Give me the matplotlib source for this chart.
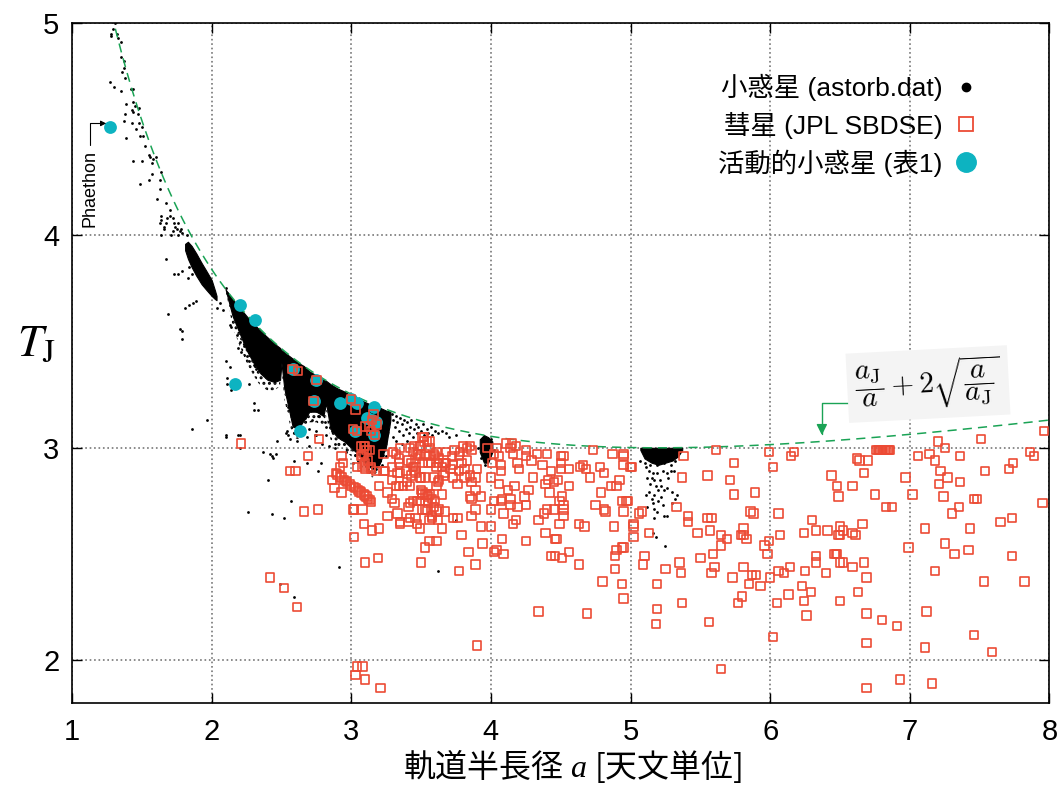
import numpy as np
import matplotlib
matplotlib.use("Agg")
import matplotlib.pyplot as plt
from matplotlib.lines import Line2D

plt.rcParams['font.family'] = ['Liberation Sans', 'Noto Sans CJK JP', 'DejaVu Sans']
# custom math font set, used only by the x label (CJK text + italic serif a)
plt.rcParams['mathtext.rm'] = 'Noto Sans CJK JP'
plt.rcParams['mathtext.it'] = 'Liberation Serif:italic'
plt.rcParams['hatch.linewidth'] = 1.4

# Jupiter semi-major axis used in the boundary curve a_J/a + 2 sqrt(a/a_J)
a_jup = 5.2

# ---- asteroids (astorb.dat): dense regions as (a, upper T, lower T)
band_a = [2.10, 2.15, 2.20, 2.25, 2.30, 2.35, 2.40, 2.45, 2.49, 2.50, 2.52, 2.55, 2.58, 2.62,
          2.66, 2.70, 2.75, 2.80, 2.82, 2.85, 2.90, 2.95, 3.00, 3.05, 3.10, 3.15, 3.20, 3.25, 3.28]
band_top = [3.745, 3.70, 3.66, 3.62, 3.585, 3.55, 3.52, 3.49, 3.47, 3.46, 3.45, 3.435, 3.42, 3.40,
            3.385, 3.36, 3.34, 3.32, 3.315, 3.30, 3.28, 3.265, 3.245, 3.23, 3.215, 3.20, 3.19, 3.175, 3.17]
band_low = [3.745, 3.62, 3.54, 3.46, 3.40, 3.35, 3.32, 3.31, 3.32, 3.40, 3.28, 3.19, 3.10, 3.09,
            3.13, 3.17, 3.17, 3.15, 3.21, 3.09, 3.05, 3.03, 3.00, 2.97, 2.93, 2.90, 2.92, 3.01, 3.13]
# lower edge of the speckled (less dense) fringe below the band
speck_low = [3.745, 3.57, 3.48, 3.40, 3.34, 3.29, 3.27, 3.27, 3.29, 3.38, 3.23, 3.14, 3.05, 3.04,
             3.08, 3.12, 3.12, 3.10, 3.16, 3.04, 3.01, 2.99, 2.96, 2.93, 2.89, 2.86, 2.88, 2.97, 3.10]

hung_a = [1.81, 1.83, 1.857, 1.89, 1.928, 1.96, 2.00, 2.024, 2.035]
hung_top = [3.96, 3.97, 3.95, 3.915, 3.87, 3.835, 3.79, 3.74, 3.715]
hung_low = [3.93, 3.89, 3.85, 3.81, 3.77, 3.745, 3.715, 3.70, 3.695]

hilda_a = [3.92, 3.95, 3.98, 4.01]
hilda_top = [3.04, 3.06, 3.05, 3.03]
hilda_low = [2.98, 2.93, 2.93, 2.98]

trojan_a = [5.07, 5.10, 5.15, 5.20, 5.25, 5.30, 5.34, 5.37]
trojan_top = [3.0, 3.0, 3.0, 3.0, 3.0, 3.0, 3.0, 3.0]
trojan_low = [2.99, 2.95, 2.93, 2.92, 2.93, 2.94, 2.96, 2.99]

# ---- asteroids: individual scattered objects (a, T)
ast_dots = [
    (1.31, 5.0), (1.29, 4.97), (1.28, 4.95), (1.32, 4.95), (1.28, 4.94), (1.33, 4.93), (1.35, 4.91),
    (1.35, 4.84), (1.37, 4.82), (1.37, 4.79), (1.36, 4.77), (1.27, 4.72), (1.30, 4.70), (1.35, 4.68),
    (1.38, 4.74), (1.42, 4.69), (1.44, 4.69), (1.39, 4.62), (1.44, 4.63), (1.45, 4.61), (1.43, 4.59),
    (1.48, 4.60), (1.47, 4.57), (1.44, 4.58), (1.38, 4.57), (1.37, 4.54), (1.43, 4.53), (1.48, 4.53),
    (1.50, 4.51), (1.46, 4.50), (1.39, 4.46), (1.49, 4.47), (1.51, 4.47), (1.52, 4.42), (1.55, 4.38),
    (1.56, 4.37), (1.58, 4.36), (1.57, 4.34), (1.60, 4.37), (1.50, 4.35), (1.44, 4.35), (1.57, 4.29),
    (1.64, 4.30), (1.63, 4.26), (1.55, 4.26), (1.49, 4.24), (1.63, 4.22), (1.61, 4.17), (1.67, 4.15),
    (1.70, 4.12), (1.70, 4.09), (1.64, 4.09), (1.64, 4.07), (1.68, 4.08), (1.72, 4.08), (1.66, 4.04),
    (1.74, 4.04), (1.76, 4.06), (1.78, 4.03), (1.72, 4.02), (1.76, 4.0), (1.79, 4.01), (1.82, 4.0),
    (1.63, 4.06), (1.67, 4.06), (1.66, 4.03), (1.73, 4.06), (1.75, 4.03), (1.77, 4.02), (1.71, 4.0),
    (1.64, 4.0), (1.67, 3.89), (1.73, 3.82), (1.76, 3.82), (1.79, 3.83), (1.84, 3.85), (1.86, 3.82),
    (1.83, 3.80), (1.81, 3.66), (1.84, 3.67), (1.87, 3.68), (1.89, 3.69), (1.69, 3.63), (1.77, 3.56),
    (1.79, 3.55), (1.79, 3.51), (1.86, 3.09), (1.97, 3.13), (2.10, 3.05), (2.19, 3.06), (2.27, 3.30),
    (2.30, 3.21), (2.33, 3.18), (2.30, 3.18), (2.11, 3.33), (2.11, 3.30), (2.14, 3.27), (2.10, 3.41),
    (2.13, 3.38), (2.06, 3.68), (2.08, 3.65), (2.04, 3.66), (2.10, 3.75), (2.11, 3.73), (2.18, 3.53),
    (2.20, 3.50), (2.23, 3.48), (2.13, 3.58), (2.14, 3.57), (2.19, 3.47), (2.21, 3.45), (2.25, 3.43),
    (2.27, 3.41), (2.30, 3.39), (2.32, 3.37), (2.36, 3.38), (2.38, 3.35), (2.41, 3.35), (2.43, 3.34),
    (2.45, 3.33), (2.47, 3.03), (2.44, 2.95), (2.42, 2.97), (2.54, 3.08), (2.55, 3.06), (2.61, 3.06),
    (2.66, 3.08), (2.70, 3.09), (2.75, 3.06), (2.82, 3.06), (2.86, 3.08), (2.88, 3.0), (2.79, 3.02),
    (2.55, 3.19), (2.57, 3.16), (2.63, 3.19), (2.67, 3.14), (2.68, 3.19), (2.58, 3.12), (2.62, 3.10),
    (2.72, 3.13), (2.76, 3.15), (2.81, 3.12), (2.10, 3.06), (2.20, 3.06), (2.20, 3.0), (2.37, 2.98),
    (2.43, 2.96), (2.46, 2.97), (2.40, 2.85), (2.26, 2.70), (2.43, 2.69), (2.52, 2.67), (2.57, 2.75),
    (2.59, 2.94), (2.68, 2.93), (2.76, 2.89), (2.78, 2.93), (2.49, 2.36), (2.59, 2.30), (2.91, 2.44),
    (2.53, 3.07), (2.56, 3.04), (2.61, 3.03), (2.68, 3.05), (2.74, 3.06), (2.75, 3.08), (2.82, 3.10),
    (2.87, 3.11), (2.92, 3.11), (2.70, 3.01), (2.84, 3.01), (2.88, 3.02), (2.96, 2.98), (3.01, 2.93),
    (3.05, 2.97), (3.10, 2.95), (3.16, 2.97), (3.21, 2.98), (3.20, 2.94), (3.25, 2.96), (3.15, 2.91),
    (3.13, 2.93), (3.17, 2.93), (3.12, 2.90), (3.18, 2.90), (3.22, 2.92),
    (3.29, 3.16), (3.30, 3.13), (3.31, 3.10), (3.32, 3.15), (3.33, 3.12), (3.34, 3.08), (3.35, 3.14),
    (3.36, 3.11), (3.37, 3.06), (3.38, 3.13), (3.39, 3.09), (3.40, 3.12), (3.41, 3.07), (3.42, 3.10),
    (3.43, 3.13), (3.44, 3.05), (3.45, 3.09), (3.46, 3.11), (3.47, 3.07), (3.48, 3.10), (3.50, 3.08),
    (3.51, 3.11), (3.52, 3.06), (3.54, 3.09), (3.55, 3.07), (3.57, 3.10), (3.58, 3.06), (3.60, 3.08),
    (3.62, 3.07), (3.65, 3.08), (3.68, 3.07), (3.70, 3.05), (3.75, 3.06), (3.84, 3.06), (3.30, 3.05),
    (3.32, 3.03), (3.36, 3.02), (3.40, 3.03), (3.62, 2.42), (3.75, 2.66),
    (3.91, 3.00), (3.93, 2.95), (4.02, 2.99), (3.96, 2.92), (4.00, 3.04),
    (5.07, 2.94), (5.10, 2.93), (5.14, 2.92), (5.19, 2.92), (5.24, 2.93), (5.29, 2.92), (5.32, 2.94),
    (5.33, 2.96), (5.35, 2.98), (5.11, 2.91), (5.13, 2.89), (5.16, 2.88), (5.12, 2.86), (5.17, 2.85),
    (5.19, 2.88), (5.23, 2.89), (5.26, 2.88), (5.29, 2.89), (5.31, 2.89), (5.14, 2.83), (5.18, 2.82),
    (5.22, 2.82), (5.24, 2.80), (5.26, 2.81), (5.30, 2.79), (5.13, 2.79), (5.17, 2.78), (5.11, 2.78),
    (5.20, 2.75), (5.16, 2.74), (5.12, 2.72), (5.17, 2.71), (5.23, 2.73), (5.30, 2.74), (5.24, 2.68),
    (5.17, 2.67), (5.26, 2.68), (5.18, 2.58), (5.25, 2.54), (5.16, 2.60), (5.32, 2.76), (5.33, 2.78),
    (5.15, 2.86), (5.21, 2.85), (5.27, 2.86), (5.20, 2.80), (5.15, 2.76), (5.22, 2.77), (5.19, 2.70),
]

# ---- comets (JPL SBDSE) (a, T)
comets = [
    (2.21, 3.02), (2.42, 2.39), (2.52, 2.34), (2.61, 2.25), (2.56, 2.89), (2.60, 2.89), (2.66, 2.70),
    (2.76, 2.71), (2.69, 2.96), (2.77, 3.04), (2.58, 3.37), (2.62, 3.36), (2.75, 3.32), (2.73, 3.22),
    (3.00, 3.23), (3.03, 3.18), (3.16, 3.16), (3.15, 3.13), (3.18, 3.11), (3.13, 3.10), (3.10, 3.10),
    (3.14, 3.08), (3.04, 3.08), (3.01, 3.09), (3.17, 3.06), (3.07, 3.01), (3.10, 3.01), (3.11, 2.99),
    (3.13, 2.99), (2.93, 2.96), (2.94, 2.93), (2.92, 2.91), (3.08, 2.96), (3.10, 2.93), (3.08, 2.91),
    (3.04, 2.91), (3.14, 2.91), (3.18, 2.89), (3.23, 2.97), (3.23, 2.89), (3.30, 2.98), (3.35, 3.00),
    (3.34, 2.93), (3.35, 2.88), (3.32, 2.82), (3.20, 2.82), (3.26, 2.79), (3.29, 2.76), (3.31, 2.74),
    (3.33, 2.69), (3.26, 2.68), (3.09, 2.64), (3.20, 2.62), (3.35, 2.65), (2.86, 2.85), (2.88, 2.81),
    (2.93, 2.79), (3.01, 2.71), (3.02, 2.71), (3.08, 2.71), (3.15, 2.61), (3.02, 2.58), (3.10, 2.46),
    (3.19, 2.48), (3.29, 2.85), (3.29, 2.91), (3.24, 2.89), (3.14, 2.90), (3.10, 2.90), (3.09, 2.92),
    (3.12, 2.94), (3.07, 2.96), (3.09, 2.97), (3.09, 3.01), (3.04, 1.97), (3.08, 1.97), (3.03, 1.93),
    (3.10, 1.91), (3.21, 1.87), (3.34, 2.82), (3.33, 2.88), (3.34, 2.95), (3.32, 2.97),
    (3.46, 2.89), (3.49, 2.96), (3.41, 2.94), (3.44, 2.91), (3.51, 3.05), (3.54, 3.03), (3.56, 3.00),
    (3.49, 3.01), (3.60, 2.96), (3.61, 2.91), (3.66, 2.93), (3.67, 2.88), (3.62, 2.84), (3.49, 2.86),
    (3.51, 2.78), (3.53, 2.78), (3.55, 2.77), (3.58, 2.76), (3.63, 2.71), (3.54, 2.71), (3.58, 2.67),
    (3.67, 2.70), (3.42, 2.74), (3.47, 2.75), (3.41, 2.65), (3.44, 2.98), (3.48, 2.97), (3.53, 2.97),
    (3.56, 2.96), (3.59, 2.97), (3.61, 2.98), (3.46, 2.95), (3.43, 2.93), (3.51, 2.93), (3.55, 2.93),
    (3.57, 2.93), (3.62, 2.93), (3.65, 2.91), (3.68, 2.93), (3.46, 2.91), (3.39, 2.89), (3.43, 2.87),
    (3.46, 2.88), (3.50, 2.86), (3.53, 2.86), (3.59, 2.86), (3.63, 2.85), (3.37, 2.82), (3.40, 2.84),
    (3.42, 2.82), (3.50, 2.80), (3.51, 2.79), (3.54, 2.78), (3.56, 2.78), (3.49, 2.75), (3.44, 2.75),
    (3.41, 2.72), (3.53, 2.71), (3.58, 2.68), (3.46, 2.67), (3.52, 3.05), (3.52, 3.03), (3.45, 3.01),
    (3.49, 3.01), (3.56, 3.03), (3.42, 3.00),
    (3.74, 2.99), (3.83, 3.00), (3.86, 2.99), (3.77, 2.96), (3.72, 2.96), (3.79, 2.93), (3.73, 2.92),
    (3.63, 2.95), (3.76, 2.83), (3.81, 2.86), (3.86, 2.76),
    (3.85, 3.01), (3.80, 3.01), (3.78, 2.98), (3.77, 2.89), (3.81, 2.90), (3.73, 2.86), (3.71, 2.90),
    (3.68, 2.98), (3.67, 2.93), (3.66, 2.87), (3.65, 2.78), (3.61, 2.82), (3.60, 2.75), (3.59, 2.72),
    (3.61, 2.70), (3.56, 2.66), (3.62, 2.66), (3.65, 2.62), (3.55, 2.74), (3.51, 2.71), (3.47, 2.64),
    (3.49, 2.62), (3.42, 2.67), (3.35, 2.64), (3.73, 2.67), (3.76, 2.67), (3.79, 2.59), (3.84, 2.51),
    (3.77, 2.42), (3.89, 2.45), (3.94, 2.55), (3.93, 2.63), (4.00, 2.63), (3.50, 2.46), (3.53, 2.53),
    (3.56, 2.56), (3.61, 2.56), (3.90, 2.07),
    (3.90, 2.90), (3.89, 2.86), (3.86, 2.84), (3.85, 2.87), (3.83, 2.94), (3.93, 2.77), (3.89, 2.80),
    (3.85, 2.77), (3.89, 2.71), (3.86, 2.68), (3.97, 3.00),
    (4.73, 2.99), (4.87, 2.97), (4.95, 2.96), (4.95, 2.92), (5.00, 2.91), (4.81, 2.88), (4.78, 2.91),
    (4.71, 2.86), (4.68, 2.90), (4.66, 2.92), (4.64, 2.91), (4.56, 2.90), (4.50, 2.96), (4.52, 2.96),
    (4.50, 2.93), (4.50, 2.90), (4.43, 2.89), (4.40, 2.97), (4.37, 2.92), (4.33, 2.97), (4.29, 2.94),
    (4.25, 2.96), (4.25, 2.99), (4.20, 2.90), (4.18, 3.01), (4.15, 3.02), (4.11, 3.02), (4.14, 3.00),
    (4.16, 2.97), (4.19, 2.93), (4.07, 2.89), (4.04, 3.00), (4.02, 2.97), (4.06, 2.96), (4.07, 2.92),
    (4.01, 2.93), (4.00, 2.86), (4.06, 2.83), (4.12, 2.80), (4.17, 2.82), (4.27, 2.80), (4.30, 2.86),
    (4.41, 2.85), (4.45, 2.84), (4.48, 2.85), (4.56, 2.82), (4.39, 2.83), (4.42, 2.79), (4.51, 2.77),
    (4.49, 2.75), (4.52, 2.73), (4.52, 2.71), (4.52, 2.68), (4.45, 2.71), (4.40, 2.71), (4.38, 2.69),
    (4.34, 2.66), (4.24, 2.77), (4.25, 2.73), (4.19, 2.72), (4.18, 2.66), (4.16, 2.64), (4.14, 2.76),
    (4.14, 2.73), (4.08, 2.76), (4.07, 2.75), (4.09, 2.69), (4.02, 2.75), (4.00, 2.71), (4.02, 2.51),
    (4.04, 2.52), (4.09, 2.50), (4.08, 2.57), (4.25, 2.56), (4.46, 2.57), (4.47, 2.57), (4.43, 2.49),
    (4.46, 2.49), (4.51, 2.48), (4.56, 2.51), (4.63, 2.45), (4.63, 2.64), (4.67, 2.63), (4.49, 2.64),
    (4.39, 2.60), (4.34, 2.23), (4.69, 2.22), (4.79, 2.79), (4.75, 2.73), (4.81, 2.71), (4.82, 2.70),
    (4.88, 2.63), (4.86, 2.82), (4.90, 2.82), (4.92, 2.85), (4.94, 2.75), (4.98, 2.75), (4.90, 2.52),
    (4.95, 2.53), (4.89, 2.49), (4.89, 2.43), (4.80, 2.37), (4.94, 2.36), (4.95, 2.29),
    (4.95, 2.97), (4.97, 2.75), (4.95, 2.70), (5.02, 2.64), (5.02, 2.63), (5.02, 2.58), (4.94, 2.53),
    (5.01, 2.91), (5.06, 2.69), (5.08, 2.70), (5.10, 2.49), (5.09, 2.45), (5.13, 2.60), (5.19, 2.36),
    (5.19, 2.24), (5.18, 2.17), (5.25, 2.43), (5.33, 2.72), (5.35, 2.46), (5.36, 2.41), (5.37, 2.27),
    (5.37, 2.86), (5.38, 2.96), (5.41, 2.65), (5.41, 2.68), (5.48, 2.60), (5.50, 2.48), (5.55, 2.87),
    (5.55, 2.67), (5.58, 2.67), (5.57, 2.61), (5.59, 2.50), (5.60, 2.44), (5.58, 2.41), (5.56, 2.18),
    (5.61, 2.99), (5.65, 2.59), (5.65, 2.54), (5.69, 2.57), (5.65, 1.96), (5.71, 2.85), (5.74, 2.93),
    (5.74, 2.78), (5.73, 2.39), (5.77, 2.27), (5.79, 2.59), (5.81, 2.59), (5.83, 2.57), (5.81, 2.62),
    (5.81, 2.44), (5.80, 2.30), (5.85, 2.36), (5.87, 2.40), (5.90, 2.40), (5.93, 2.35), (5.86, 2.70),
    (5.88, 2.69), (5.89, 2.79), (5.96, 2.54), (5.98, 2.50), (5.99, 2.56), (5.99, 2.98), (6.00, 2.39),
    (6.02, 2.91), (6.02, 2.11), (6.06, 2.42), (6.06, 2.69), (6.07, 2.59), (6.05, 2.27), (6.10, 2.41),
    (6.14, 2.44), (6.13, 2.31), (6.15, 2.96), (6.17, 2.98), (6.24, 2.60), (6.25, 2.42), (6.24, 2.28),
    (6.23, 2.35), (6.26, 2.21), (6.29, 2.32), (6.30, 2.66), (6.33, 2.49), (6.33, 2.46), (6.33, 2.61),
    (6.40, 2.41), (6.41, 2.61), (6.44, 2.87), (6.48, 2.82), (6.49, 2.77), (6.46, 2.50), (6.48, 2.50),
    (6.50, 2.63), (6.50, 2.59), (6.50, 2.46), (6.50, 2.28),
    (6.62, 2.95), (6.64, 2.94), (6.70, 2.94), (6.67, 2.88), (6.59, 2.82), (6.75, 2.78), (6.83, 2.72),
    (6.87, 2.72), (6.97, 2.86), (7.02, 2.78), (6.66, 2.64), (6.52, 2.61), (6.49, 2.59), (6.59, 2.60),
    (6.61, 2.59), (6.47, 2.50), (6.52, 2.46), (6.59, 2.44), (6.67, 2.46), (6.69, 2.39), (6.99, 2.53),
    (6.63, 2.32), (6.69, 2.22), (6.80, 2.19), (6.91, 2.16), (6.69, 2.08), (6.93, 1.91), (6.69, 1.87),
    (7.11, 2.62), (7.12, 2.23), (7.11, 2.06), (7.16, 1.89), (7.18, 2.42), (7.06, 2.96), (7.14, 2.97),
    (7.18, 2.94), (7.20, 3.03), (7.25, 3.00), (7.36, 2.96), (7.22, 2.89), (7.27, 2.86), (7.21, 2.83),
    (7.36, 2.84), (7.24, 2.77), (7.35, 2.72), (7.30, 2.69), (7.25, 2.55), (7.32, 2.50), (7.42, 2.52),
    (7.43, 2.62), (7.46, 2.76), (7.48, 2.76), (7.46, 2.12), (7.51, 3.04), (7.54, 2.89), (7.53, 2.37),
    (7.59, 2.04), (7.65, 2.65), (7.71, 2.90), (7.74, 2.93), (7.73, 2.67), (7.73, 2.49), (7.82, 2.37),
    (7.86, 2.98), (7.89, 2.96), (7.95, 2.74), (7.96, 3.08),
]

# fragment trail of one comet near a = 3
trail_a = [2.89, 2.90, 2.92, 2.93, 2.95, 2.96, 2.97, 2.99, 3.00, 3.02,
           3.03, 3.05, 3.06, 3.07, 3.09, 3.10, 3.11, 3.12, 3.13, 3.14]
trail_t = [2.88, 2.875, 2.865, 2.86, 2.85, 2.845, 2.84, 2.83, 2.82, 2.815,
           2.81, 2.80, 2.795, 2.79, 2.78, 2.775, 2.77, 2.76, 2.755, 2.745]

# fragment cluster near a = 6.8
clump_a = [6.76, 6.77, 6.78, 6.79, 6.80, 6.81, 6.82, 6.83, 6.84, 6.85, 6.86]
clump_t = [2.99, 2.99, 2.99, 2.99, 2.99, 2.99, 2.99, 2.99, 2.99, 2.99, 2.99]

# ---- active asteroids (table 1)
active_a = [1.27, 2.20, 2.31, 2.17, 2.58, 2.75, 2.73, 2.63, 2.92, 3.00, 3.04, 3.16,
            3.11, 3.15, 3.18, 3.03, 3.16]
active_t = [4.51, 3.67, 3.60, 3.30, 3.37, 3.32, 3.22, 3.08, 3.21, 3.23, 3.21, 3.19,
            3.14, 3.13, 3.12, 3.08, 3.06]

red = '#ec4b35'
cyan = '#0db3c1'
green = '#1aa355'

fig = plt.figure(figsize=(10.59, 7.85), dpi=100)
ax = fig.add_axes([0.0680, 0.1048, 0.9230, 0.8660])

# asteroids
ax.fill_between(band_a, speck_low, band_low, facecolor='none', edgecolor='black',
                hatch='...', lw=0, zorder=2)
for xs, top, low in [(band_a, band_top, band_low), (hung_a, hung_top, hung_low),
                     (hilda_a, hilda_top, hilda_low), (trojan_a, trojan_top, trojan_low)]:
    ax.fill_between(xs, low, top, color='black', lw=0.8, edgecolor='black', zorder=2)
ast = np.array(ast_dots)
ax.scatter(ast[:, 0], ast[:, 1], s=4, color='black', lw=0, zorder=2)

# Tisserand boundary curve
curve_a = np.linspace(1.25, 8.0, 400)
ax.plot(curve_a, a_jup / curve_a + 2 * np.sqrt(curve_a / a_jup), '--', color=green,
        lw=1.1, dashes=(6, 4), zorder=3)

# active asteroids
ax.scatter(active_a, active_t, s=85, color=cyan, lw=0, zorder=4)

# comets
com = np.array(comets)
sq = dict(marker='s', s=36, facecolors='none', edgecolors=red, linewidths=1.2, zorder=5)
ax.scatter(com[:, 0], com[:, 1], **sq)
ax.scatter(trail_a, trail_t, **sq)
ax.scatter(clump_a, clump_t, **sq)

ax.set_xlim(1, 8)
ax.set_ylim(1.8, 5)
ax.set_xticks(range(1, 9))
ax.set_yticks([2, 3, 4, 5])
ax.tick_params(direction='in', length=7, width=1, top=True, right=True, labelsize=21)
ax.tick_params(axis='x', pad=11)
ax.tick_params(axis='y', pad=9)
ax.grid(True, linestyle=':', color='#777777', lw=1.2)
for sp in ax.spines.values():
    sp.set_linewidth(1.2)

ax.set_xlabel(r'$\mathrm{軌道半長径}\ a\ \mathrm{[天文単位]}$', fontsize=23, labelpad=1,
              math_fontfamily='custom')
ax.xaxis.label.set_x(0.512)
ax.text(-0.036, 0.527, r'$T_\mathrm{J}$', transform=ax.transAxes, fontsize=33,
        ha='center', va='center', math_fontfamily='stix')

# annotations
ax.annotate('Phaethon', xy=(1.245, 4.527), xytext=(1.128, 4.22), rotation=90,
            ha='center', va='center', fontsize=13,
            arrowprops=dict(arrowstyle='-|>', color='black', lw=0.8, mutation_scale=8,
                            connectionstyle='angle,angleA=90,angleB=0,rad=0',
                            shrinkA=2, shrinkB=0))
ax.annotate('', xy=(6.37, 3.06), xytext=(6.57, 3.21),
            arrowprops=dict(arrowstyle='-|>', color=green, lw=1, mutation_scale=16,
                            connectionstyle='angle,angleA=0,angleB=90,rad=0',
                            shrinkA=0, shrinkB=0))
ax.text(7.13, 3.30, r'$\dfrac{a_\mathrm{J}}{a}+2\sqrt{\dfrac{a}{a_\mathrm{J}}}$', fontsize=21,
        ha='center', va='center', rotation=3, math_fontfamily='cm', zorder=6,
        bbox=dict(boxstyle='square,pad=0.25', facecolor='#f4f4f4', edgecolor='none'))

handles = [
    Line2D([], [], ls='none', marker='o', ms=6, color='black'),
    Line2D([], [], ls='none', marker='s', ms=10, mfc='none', mec=red, mew=1.3),
    Line2D([], [], ls='none', marker='o', ms=14, color=cyan),
]
labels = ['小惑星 (astorb.dat)', '彗星 (JPL SBDSE)', '活動的小惑星 (表1)']
ax.legend(handles, labels, loc='upper right', bbox_to_anchor=(0.955, 0.96), frameon=False,
          markerfirst=False, fontsize=19, labelspacing=0.4, handletextpad=0.3,
          handlelength=1.2)

fig.savefig('out.png', dpi=100)
